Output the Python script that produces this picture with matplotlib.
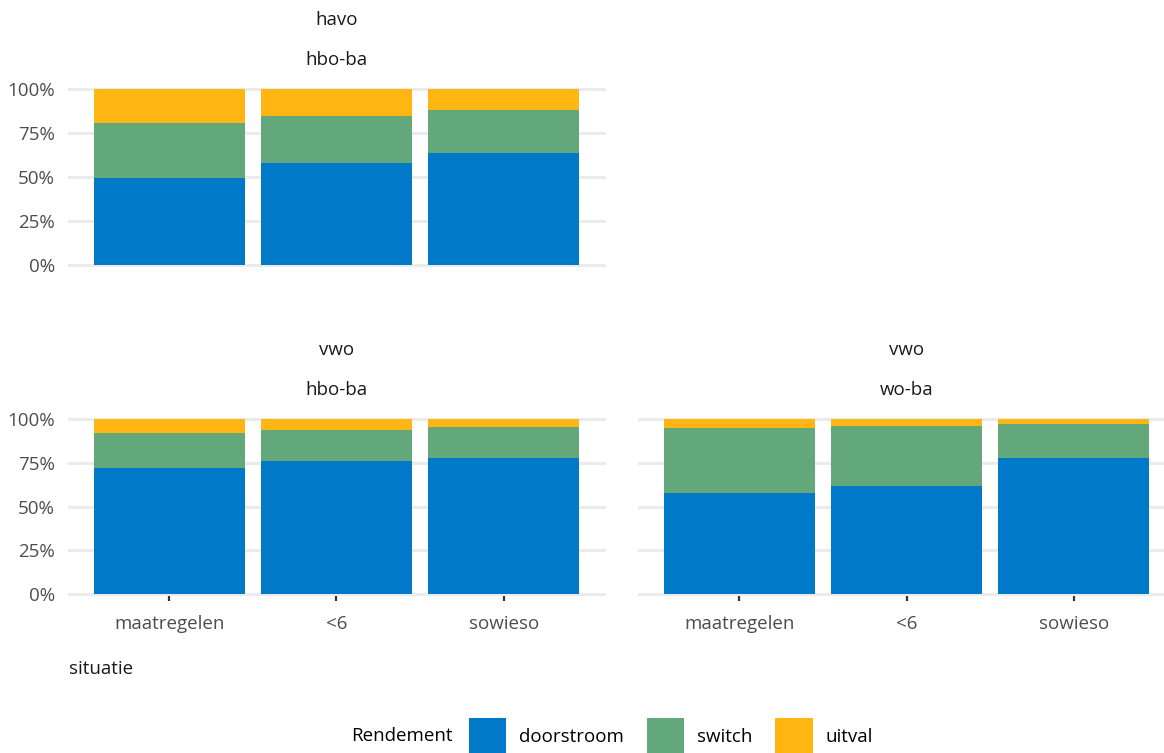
import numpy as np
import matplotlib
matplotlib.use("Agg")
import matplotlib.pyplot as plt
from matplotlib.patches import Patch
from matplotlib.offsetbox import HPacker

plt.rcParams['font.family'] = ['Open Sans', 'DejaVu Sans']

# ---- data (share of students, %) ----
situaties = ["maatregelen", "<6", "sowieso"]
rendement = ["doorstroom", "switch", "uitval"]
kleuren = ["#0079C8", "#62A87A", "#FFB612"]

havo_hbo_doorstroom = [49.5, 58.0, 63.7]
havo_hbo_switch = [31.3, 26.8, 24.5]
havo_hbo_uitval = [19.2, 15.2, 11.8]

vwo_hbo_doorstroom = [72.0, 76.0, 77.7]
vwo_hbo_switch = [20.0, 17.7, 17.7]
vwo_hbo_uitval = [8.0, 6.3, 4.6]

vwo_wo_doorstroom = [57.6, 61.6, 77.7]
vwo_wo_switch = [37.2, 34.4, 19.4]
vwo_wo_uitval = [5.2, 4.0, 2.9]

panels = [
    ("havo", "hbo-ba", havo_hbo_doorstroom, havo_hbo_switch, havo_hbo_uitval),
    ("vwo", "hbo-ba", vwo_hbo_doorstroom, vwo_hbo_switch, vwo_hbo_uitval),
    ("vwo", "wo-ba", vwo_wo_doorstroom, vwo_wo_switch, vwo_wo_uitval),
]

W, H = 1164, 753
FS = 13.5
fig = plt.figure(figsize=(W / 100, H / 100), dpi=100)


def px_axes(x0, y0, x1, y1):
    return fig.add_axes([x0 / W, 1 - y1 / H, (x1 - x0) / W, (y1 - y0) / H])


# pixel boxes of the panels (left, top, right, bottom)
boxes = [(69, 89, 604, 265), (69, 419, 604, 594), (639, 419, 1174, 594)]
show_y = [True, True, False]
show_x = [False, True, True]

tick_col = "#4D4D4D"
grid_col = "#EBEBEB"

for (rij, opl, d, s, u), box, sy, sx in zip(panels, boxes, show_y, show_x):
    ax = px_axes(*box)
    x = np.arange(len(situaties))
    bottom = np.zeros(len(situaties))
    for vals, col in zip([d, s, u], kleuren):
        vals = np.array(vals) / 100
        ax.bar(x, vals, width=0.9, bottom=bottom, color=col, zorder=2)
        bottom += vals
    ax.set_xlim(-0.6, 2.6)
    ax.set_ylim(0, 1.0)
    ax.set_yticks([0, 0.25, 0.5, 0.75, 1.0])
    ax.yaxis.grid(True, color=grid_col, linewidth=2.2, zorder=0)
    ax.set_axisbelow(True)
    for sp in ax.spines.values():
        sp.set_visible(False)
    ax.tick_params(axis="y", length=0, pad=10, labelsize=FS, labelcolor=tick_col)
    if sy:
        ax.set_yticklabels(["0%", "25%", "50%", "75%", "100%"])
    else:
        ax.set_yticklabels([])
    ax.set_xticks(x)
    if sx:
        ax.set_xticklabels(situaties)
        ax.tick_params(axis="x", length=5, width=1.6, color="#333333", pad=10,
                       direction="out", labelsize=FS, labelcolor=tick_col)
    else:
        ax.tick_params(axis="x", length=0, labelbottom=False)
    for line in ax.get_ygridlines():
        line.set_clip_on(False)
    # strip titles
    cx = (box[0] + box[2]) / 2
    fig.text(cx / W, 1 - (box[1] - 69) / H, rij, ha="center", va="center",
             fontsize=FS, color="#1A1A1A")
    fig.text(cx / W, 1 - (box[1] - 29) / H, opl, ha="center", va="center",
             fontsize=FS, color="#1A1A1A")

fig.text(69 / W, 1 - 669 / H, "situatie", ha="left", va="center",
         fontsize=FS, color="#1A1A1A")

handles = [Patch(facecolor=c, edgecolor="none") for c in kleuren]
leg = fig.legend(handles, rendement, loc="center", bbox_to_anchor=(612 / W, 1 - 736 / H),
                 ncol=3, frameon=False, fontsize=FS, handlelength=2.0, handleheight=2.6,
                 handletextpad=0.7, columnspacing=1.2, title="Rendement",
                 title_fontsize=FS)
# put title on the same row as the entries
title_box = leg._legend_title_box
content = leg._legend_handle_box
leg._legend_box._children = [HPacker(pad=0, sep=12, align="center",
                                     children=[title_box, content])]

fig.savefig("out.png", dpi=100, facecolor="white")
